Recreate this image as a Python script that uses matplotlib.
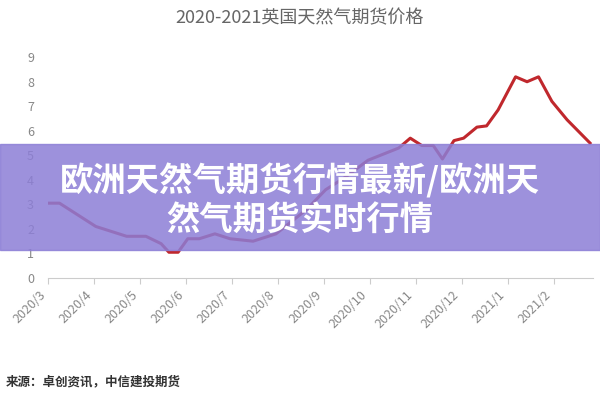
import matplotlib
matplotlib.use("Agg")
import matplotlib.pyplot as plt
from matplotlib.patches import Rectangle

plt.rcParams['font.family'] = ['Noto Sans CJK SC', 'DejaVu Sans']

months = ["2020/3","2020/4","2020/5","2020/6","2020/7","2020/8","2020/9","2020/10","2020/11","2020/12","2021/1","2021/2"]
x_pos = [0,0.25,1.04,1.71,2.13,2.46,2.63,2.83,3.04,3.29,3.63,3.96,4.46,4.96,5.63,6.04,6.46,6.96,7.63,7.88,8.13,8.38,8.58,8.83,9.04,9.33,9.54,9.79,10.17,10.42,10.67,10.96,11.29,11.79]
price = [3.05,3.05,2.1,1.7,1.7,1.4,1.05,1.05,1.6,1.6,1.8,1.6,1.5,1.8,2.8,3.6,4.1,4.8,5.3,5.7,5.4,5.4,4.85,5.6,5.7,6.15,6.2,6.85,8.2,8.0,8.2,7.2,6.45,5.5]

fig = plt.figure(figsize=(6,4), dpi=100)
ax = fig.add_axes([0.08, 0.305, 0.908, 0.552])
ax.plot(x_pos, price, color='#c0282d', lw=2.2)
ax.set_ylim(0, 9)
ax.set_xlim(0, 11.85)
ax.set_yticks(range(10))
ax.set_xticks(range(12))
ax.set_xticklabels(months, rotation=45, ha='right', color='#888888', fontsize=9)
ax.tick_params(axis='y', colors='#888888', length=0, labelsize=9, pad=10)
ax.tick_params(axis='x', colors='#cccccc', length=4)
for s in ['top','right','left']:
    ax.spines[s].set_visible(False)
ax.spines['bottom'].set_color('#cccccc')
for lab in ax.get_xticklabels():
    lab.set_color('#888888')

fig.text(0.5, 0.955, "2020-2021英国天然气期货价格", ha='center', va='center', fontsize=13, color='#666666')
fig.text(0.01, 0.045, "来源：卓创资讯，中信建投期货", ha='left', va='center', fontsize=9, color='#333333', style='italic', fontweight='bold')

fig.patches.append(Rectangle((0, 0.375), 1, 0.265, transform=fig.transFigure, color='#8c7ed6', alpha=0.85, zorder=5))
fig.text(0.5, 0.548, "欧洲天然气期货行情最新/欧洲天", ha='center', va='center', fontsize=24, fontweight='bold', color='white', zorder=6)
fig.text(0.5, 0.448, "然气期货实时行情", ha='center', va='center', fontsize=24, fontweight='bold', color='white', zorder=6)

fig.savefig("out.png", dpi=100)
